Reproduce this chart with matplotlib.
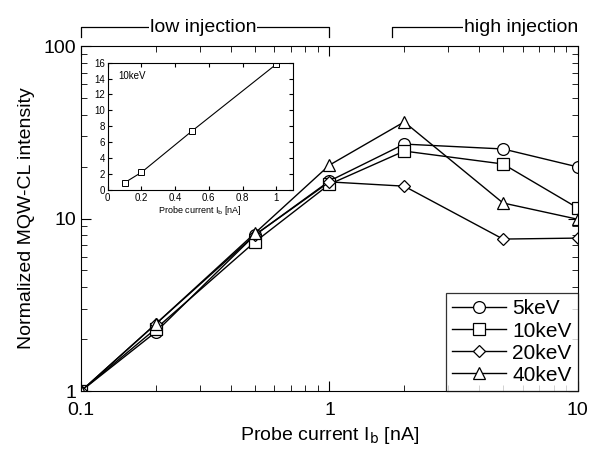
import numpy as np
import matplotlib
matplotlib.use("Agg")
import matplotlib.pyplot as plt
from matplotlib.ticker import FixedLocator, FixedFormatter, NullFormatter, LogLocator

plt.rcParams['font.family'] = ['Liberation Sans', 'DejaVu Sans']

# probe current [nA]
current = [0.1, 0.2, 0.5, 1, 2, 5, 10]

# normalized MQW-CL intensity per beam energy
kev5 = [1, 2.2, 8.0, 16.5, 27.0, 25.3, 19.9]
kev10 = [1, 2.3, 7.3, 15.8, 24.6, 20.7, 11.5]
kev20 = [1, 2.45, 8.0, 16.3, 15.4, 7.6, 7.7]
kev40 = [1, 2.45, 8.2, 20.4, 36.3, 12.3, 9.9]

labels = ['5keV', '10keV', '20keV', '40keV']
markers = ['o', 's', 'D', '^']
msizes = [8.5, 8.5, 6, 8]

# inset: 10keV, linear scale
inset_x = [0.1, 0.2, 0.5, 1.0]
inset_y = [0.9, 2.2, 7.4, 15.8]

fig = plt.figure(figsize=(5.92, 4.51), dpi=100)
ax = fig.add_axes([0.137, 0.133, 0.839, 0.765])

for ys, lab, m, ms in zip([kev5, kev10, kev20, kev40], labels, markers, msizes):
    ax.plot(current, ys, color='black', lw=1.0, marker=m, ms=ms,
            mfc='white', mec='black', mew=0.9, label=lab)

ax.set_xscale('log')
ax.set_yscale('log')
ax.set_xlim(0.1, 10)
ax.set_ylim(1, 100)
ax.xaxis.set_major_locator(FixedLocator([0.1, 1, 10]))
ax.xaxis.set_major_formatter(FixedFormatter(['0.1', '1', '10']))
ax.yaxis.set_major_locator(FixedLocator([1, 10, 100]))
ax.yaxis.set_major_formatter(FixedFormatter(['1', '10', '100']))
ax.xaxis.set_minor_locator(LogLocator(base=10, subs=np.arange(2, 10)))
ax.yaxis.set_minor_locator(LogLocator(base=10, subs=np.arange(2, 10)))
ax.xaxis.set_minor_formatter(NullFormatter())
ax.yaxis.set_minor_formatter(NullFormatter())
ax.tick_params(which='both', direction='in', top=True, right=True,
               labelsize=14)
ax.tick_params(which='major', length=7)
ax.tick_params(which='minor', length=4)
ax.tick_params(axis='x', pad=8)
ax.set_xlabel('Probe current I$_\\mathrm{b}$ [nA]', fontsize=14, labelpad=4)
ax.set_ylabel('Normalized MQW-CL intensity', fontsize=14, labelpad=6)

leg = ax.legend(loc='lower right', fontsize=15, frameon=True, fancybox=False,
                edgecolor='black', handlelength=2.6, handletextpad=0.3,
                borderpad=0.3, labelspacing=0.15, borderaxespad=0.0)
leg.get_frame().set_linewidth(0.9)

# injection brackets above the axes
tr = ax.get_xaxis_transform()
yb, yt = 1.025, 1.055
ax.plot([0.1, 0.1, 1, 1], [yb, yt, yt, yb], color='black', lw=0.9,
        transform=tr, clip_on=False)
ax.text(0.31, yt, 'low injection', transform=tr, ha='center', va='center',
        fontsize=14, bbox=dict(fc='white', ec='none', pad=0.5))
ax.plot([1.78, 1.78, 3.5], [yb, yt, yt], color='black', lw=0.9,
        transform=tr, clip_on=False)
ax.text(10, yt, 'high injection', transform=tr, ha='right', va='center',
        fontsize=14, bbox=dict(fc='white', ec='none', pad=0.5))

# inset
ins = fig.add_axes([0.182, 0.579, 0.313, 0.282])
ins.plot(inset_x, inset_y, color='black', lw=0.8, marker='s', ms=5,
         mfc='white', mec='black', mew=0.7)
ins.set_xlim(0, 1.1)
ins.set_ylim(0, 16)
ins.set_xticks([0, 0.2, 0.4, 0.6, 0.8, 1])
ins.set_xticklabels(['0', '0.2', '0.4', '0.6', '0.8', '1'])
ins.set_yticks(np.arange(0, 17, 2))
ins.tick_params(direction='in', labelsize=7, length=3, pad=2, top=True, right=True)
ins.set_xlabel('Probe current I$_\\mathrm{b}$ [nA]', fontsize=6.5, labelpad=1)
ins.text(0.06, 14, '10keV', fontsize=7)

fig.savefig('out.png', dpi=100)
